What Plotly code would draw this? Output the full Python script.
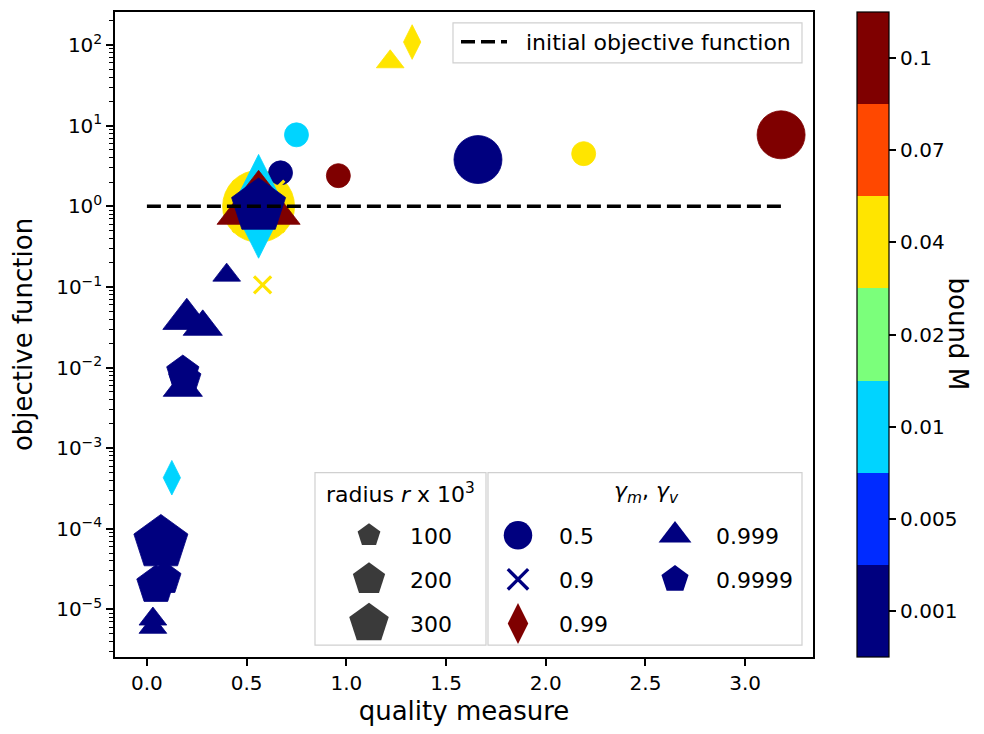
import math
import plotly.graph_objects as go

# ---------------- data ----------------
bound_levels = [0.001, 0.005, 0.01, 0.02, 0.04, 0.07, 0.1]
bound_labels = ["0.001", "0.005", "0.01", "0.02", "0.04", "0.07", "0.1"]
bound_colors = ["#00007f", "#002bff", "#00d4ff", "#7bff7b", "#ffe500", "#ff4800", "#7f0000"]

gamma_labels = ["0.5", "0.9", "0.99", "0.999", "0.9999"]
gamma_symbols = ["circle", "x-thin", "diamond-tall", "triangle-up", "pentagon"]
gamma_legend_colors = ["#00007f", "#00007f", "#7f0000", "#00007f", "#00007f"]

# gamma = 0.5 (circles)
g05_quality = [0.56, 0.67, 0.75, 0.96, 1.66, 2.19, 3.18]
g05_objective = [1.0, 2.6, 7.7, 2.4, 3.8, 4.5, 7.7]
g05_radius = [900, 100, 100, 100, 400, 100, 400]
g05_bound = [0.04, 0.001, 0.01, 0.1, 0.001, 0.04, 0.1]

# gamma = 0.9 (crosses)
g09_quality = [0.56, 0.58]
g09_objective = [1.0, 0.106]
g09_radius = [900, 100]
g09_bound = [0.04, 0.04]

# gamma = 0.99 (thin diamonds)
g099_quality = [0.56, 1.33, 0.125]
g099_objective = [1.0, 109.0, 4.3e-4]
g099_radius = [900, 100, 100]
g099_bound = [0.01, 0.04, 0.01]

# gamma = 0.999 (triangles)
g0999_quality = [0.56, 1.22, 0.40, 0.20, 0.28, 0.18, 0.03, 0.03]
g0999_objective = [1.0, 62.0, 0.14, 0.040, 0.032, 0.0056, 7.6e-6, 6.0e-6]
g0999_radius = [900, 100, 100, 300, 200, 200, 100, 100]
g0999_bound = [0.1, 0.04, 0.001, 0.001, 0.001, 0.001, 0.001, 0.001]

# gamma = 0.9999 (pentagons)
g09999_quality = [0.56, 0.18, 0.19, 0.07, 0.09, 0.045]
g09999_objective = [1.0, 0.0088, 0.0072, 6.7e-5, 2.4e-5, 2.0e-5]
g09999_radius = [560, 200, 200, 560, 200, 280]
g09999_bound = [0.001, 0.001, 0.001, 0.001, 0.001, 0.001]

radius_legend = [100, 200, 300]

initial_objective = 1.0
initial_line_quality = [0.0, 3.18]

y_tick_exponents = [-5, -4, -3, -2, -1, 0, 1, 2]
x_ticks = [0.0, 0.5, 1.0, 1.5, 2.0, 2.5, 3.0]

# ---------------- styling helpers ----------------
FONT = "DejaVu Sans"
PLOT_L, PLOT_R, PLOT_T, PLOT_B = 115, 813, 10, 657
W, H = 984, 734


def px_x(px):
    return (px - PLOT_L) / (PLOT_R - PLOT_L)


def px_y(py):
    return (PLOT_B - py) / (PLOT_B - PLOT_T)


SYMBOL_FACTOR = {"circle": 1.0, "x-thin": 1 / 1.4, "diamond-tall": 1.03,
                 "triangle-up": 1.0, "pentagon": 1.0}


def marker_px(r, symbol):
    return 24.0 * math.sqrt(r / 100.0) * SYMBOL_FACTOR[symbol]


color_of = dict(zip(bound_levels, bound_colors))

groups = [
    (g05_quality, g05_objective, g05_radius, g05_bound),
    (g09_quality, g09_objective, g09_radius, g09_bound),
    (g099_quality, g099_objective, g099_radius, g099_bound),
    (g0999_quality, g0999_objective, g0999_radius, g0999_bound),
    (g09999_quality, g09999_objective, g09999_radius, g09999_bound),
]

fig = go.Figure()

# data traces
for (qx, oy, rr, bb), sym, lab in zip(groups, gamma_symbols, gamma_labels):
    cols = [color_of[b] for b in bb]
    sizes = [marker_px(r, sym) for r in rr]
    if sym == "x-thin":
        mk = dict(symbol=sym, size=sizes, color=cols, opacity=1,
                  line=dict(color=cols, width=3.2))
    else:
        mk = dict(symbol=sym, size=sizes, color=cols, opacity=1,
                  line=dict(color=cols, width=0.8))
    fig.add_trace(go.Scatter(x=qx, y=oy, mode="markers", marker=mk,
                             name=lab, showlegend=False, hoverinfo="x+y"))

# initial objective line
fig.add_trace(go.Scatter(x=initial_line_quality, y=[initial_objective] * len(initial_line_quality),
                         mode="lines", line=dict(color="black", width=3.5, dash="14px,6px"),
                         name="\u00a0\u00a0initial objective function", legend="legend"))

# colorbar (discrete jet)
n = len(bound_levels)
cs = []
for i, c in enumerate(bound_colors):
    cs.append([i / n, c])
    cs.append([(i + 1) / n, c])
fig.add_trace(go.Scatter(
    x=[None], y=[None], mode="markers", showlegend=False, hoverinfo="skip",
    marker=dict(color=[0], colorscale=cs, cmin=-0.5, cmax=n - 0.5, showscale=True,
                colorbar=dict(
                    thickness=32, thicknessmode="pixels", len=1, lenmode="fraction",
                    x=px_x(857), xanchor="left", y=0.5, yanchor="middle",
                    xpad=0, ypad=0, outlinewidth=1.2, outlinecolor="black",
                    tickmode="array", tickvals=list(range(n)), ticktext=bound_labels,
                    ticks="outside", ticklen=7, tickwidth=1.5, tickcolor="black",
                    tickfont=dict(family=FONT, size=20, color="black"),
                ))))

# legend-only traces: radius sizes
LEG_SCALE = 3.0
for r in radius_legend:
    fig.add_trace(go.Scatter(
        x=[None], y=[None], mode="markers", name=str(r), legend="legend2",
        legendgroup="r%d" % r,
        marker=dict(symbol="pentagon", size=marker_px(r, "pentagon") / LEG_SCALE,
                    color="#3a3a3a", line=dict(width=0))))

# legend-only traces: gamma symbols (two columns)
gamma_leg_D = 28.5
for i, (lab, sym, col) in enumerate(zip(gamma_labels, gamma_symbols, gamma_legend_colors)):
    legid = "legend3" if i < 3 else "legend4"
    s = gamma_leg_D * SYMBOL_FACTOR[sym] / LEG_SCALE
    if sym == "x-thin":
        mk = dict(symbol=sym, size=s, color=col, line=dict(color=col, width=1.1))
    else:
        mk = dict(symbol=sym, size=s, color=col, line=dict(width=0))
    fig.add_trace(go.Scatter(x=[None], y=[None], mode="markers", name=lab,
                             legend=legid, legendgroup="g" + lab, marker=mk))

leg_common = dict(bgcolor="rgba(0,0,0,0)", borderwidth=0, itemwidth=72,
                  font=dict(family=FONT, size=22, color="black"),
                  xanchor="left", yanchor="top", tracegroupgap=12.5,
                  itemsizing="trace", itemclick=False, itemdoubleclick=False)

box_line = dict(color="#d0d0d0", width=1.2)
shapes = [
    dict(type="rect", xref="paper", yref="paper", x0=px_x(453), x1=px_x(802),
         y0=px_y(61), y1=px_y(21), line=box_line, fillcolor="rgba(255,255,255,0.8)", layer="above"),
    dict(type="rect", xref="paper", yref="paper", x0=px_x(315), x1=px_x(486),
         y0=px_y(645), y1=px_y(472), line=box_line, fillcolor="rgba(255,255,255,0.8)", layer="above"),
    dict(type="rect", xref="paper", yref="paper", x0=px_x(488), x1=px_x(802),
         y0=px_y(645), y1=px_y(472), line=box_line, fillcolor="rgba(255,255,255,0.8)", layer="above"),
]

annotations = [
    dict(text="radius <i>r</i> x 10<sup>3</sup>", xref="paper", yref="paper",
         x=px_x(400), y=px_y(492), showarrow=False, xanchor="center", yanchor="middle",
         font=dict(family=FONT, size=22, color="black")),
    dict(text="<i>γ<sub>m</sub></i>, <i>γ<sub>v</sub></i>", xref="paper", yref="paper",
         x=px_x(646), y=px_y(492), showarrow=False, xanchor="center", yanchor="middle",
         font=dict(family=FONT, size=22, color="black")),
    dict(text="bound M", xref="paper", yref="paper", x=px_x(958), y=0.5,
         showarrow=False, textangle=90, xanchor="center", yanchor="middle",
         font=dict(family=FONT, size=26, color="black")),
]

minor_vals = [m * 10.0 ** k for k in range(-6, 3) for m in range(2, 10)]

line_leg = dict(leg_common, itemwidth=46, x=px_x(456), y=px_y(19))

fig.update_layout(
    width=W, height=H,
    margin=dict(l=PLOT_L, r=W - PLOT_R, t=PLOT_T, b=H - PLOT_B),
    paper_bgcolor="white", plot_bgcolor="white",
    font=dict(family=FONT, color="black"),
    shapes=shapes, annotations=annotations,
    legend=line_leg,
    legend2=dict(leg_common, x=px_x(328), y=px_y(514)),
    legend3=dict(leg_common, x=px_x(477), y=px_y(514)),
    legend4=dict(leg_common, x=px_x(634), y=px_y(514)),
    xaxis=dict(
        range=[-0.16, 3.34], tickmode="array", tickvals=x_ticks,
        ticktext=["%.1f" % v for v in x_ticks],
        showline=True, mirror=True, linecolor="black", linewidth=1.5,
        ticks="outside", ticklen=7, tickwidth=1.5, tickcolor="black",
        tickfont=dict(family=FONT, size=20, color="black"),
        showgrid=False, zeroline=False,
        title=dict(text="quality measure", font=dict(family=FONT, size=26, color="black"), standoff=8),
    ),
    yaxis=dict(
        type="log", range=[-5.59, 2.41], tickmode="array",
        tickvals=[10.0 ** e for e in y_tick_exponents],
        ticktext=["10<sup>%s</sup>" % (("−%d" % -e) if e < 0 else "%d" % e) for e in y_tick_exponents],
        showline=True, mirror=True, linecolor="black", linewidth=1.5,
        ticks="outside", ticklen=7, tickwidth=1.5, tickcolor="black",
        tickfont=dict(family=FONT, size=20, color="black"),
        minor=dict(tickmode="array", tickvals=minor_vals, ticks="outside",
                   ticklen=4, tickwidth=1.1, tickcolor="black", showgrid=False),
        showgrid=False, zeroline=False,
        title=dict(text="objective function", font=dict(family=FONT, size=26, color="black"), standoff=16),
    ),
)

post = """
var gd = document.getElementById('{plot_id}');
function enlarge() {
  gd.querySelectorAll('.infolayer .legendpoints path.scatterpts').forEach(function(p) {
    var t = p.getAttribute('transform') || '';
    if (t.indexOf('scale') < 0) { p.setAttribute('transform', t + ' scale(%s)'); }
  });
}
enlarge();
gd.on('plotly_afterplot', enlarge);
""" % LEG_SCALE

fig.write_html("out.html", post_script=post)
